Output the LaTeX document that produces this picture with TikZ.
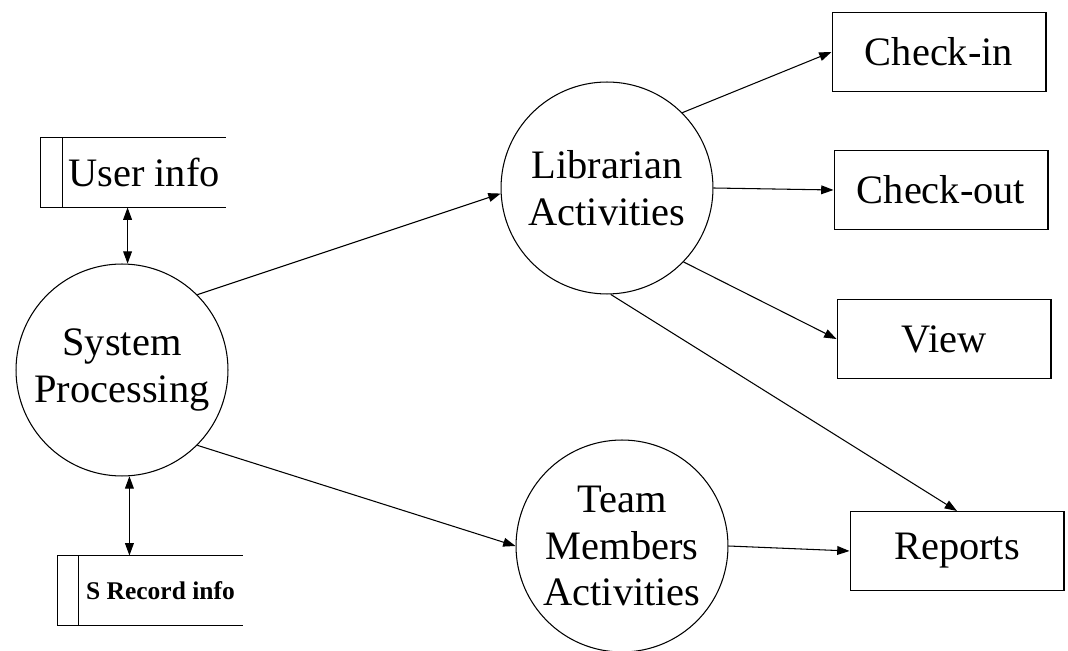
\documentclass[tikz,border=0pt]{standalone}
\usepackage{fontspec}
\setmainfont{Liberation Serif}
\usetikzlibrary{arrows.meta,calc}
\tikzset{
	proc/.style={draw, circle, minimum size=4.24cm, inner sep=0pt, align=center},
	ent/.style={draw, rectangle, minimum width=4.28cm, minimum height=1.58cm, inner sep=0pt},
	store/.style={minimum height=1.38cm, inner sep=0pt},
	flow/.style={-{Triangle[length=7pt,width=5pt]}},
	biflow/.style={{Triangle[length=7pt,width=5pt]}-{Triangle[length=7pt,width=5pt]}},
}
\begin{document}
\begin{tikzpicture}[x=0.02cm, y=-0.02cm, line width=0.6pt, font=\fontsize{23}{26.5}\selectfont]
	\useasboundingbox (0,0) rectangle (1068,651);
	% processes
	\node[proc] (sys) at (122,370) {System\\Processing};
	\node[proc] (lib) at (607,188) {Librarian\\Activities};
	\node[proc] (team) at (622,546) {Team\\Members\\Activities};
	% outputs
	\node[ent] (checkin) at (939,52) {Check-in};
	\node[ent] (checkout) at (941,190) {Check-out};
	\node[ent] (view) at (944,339) {View};
	\node[ent] (reports) at (957,551) {Reports};
	% data stores
	\node[store, minimum width=3.24cm] (ustore) at (144,172.5) {User info};
	\node[store, minimum width=3.26cm, font=\bfseries\fontsize{14.5}{17}\selectfont] (rstore) at (160.5,590.5) {S Record info};
	\foreach \s/\w in {ustore/22, rstore/21} {
		\draw (\s.north east) -- ($(\s.north west)+(-\w,0)$) -- ($(\s.south west)+(-\w,0)$) -- (\s.south east);
		\draw (\s.north west) -- (\s.south west);
	}
	% flows
	\draw[biflow] (sys.87) -- (sys.87 |- ustore.south);
	\draw[biflow] (sys.-86) -- (sys.-86 |- rstore.north);
	\draw[flow] (sys.45) -- (lib.183);
	\draw[flow] (sys.-45) -- (team.180);
	\draw[flow] (lib.45) -- (checkin.west);
	\draw[flow] (lib.0) -- (checkout.west);
	\draw[flow] (lib.-44) -- (view.west);
	\draw[flow] (lib.-88) -- (reports.north);
	\draw[flow] (team.0) -- (reports.west);
\end{tikzpicture}
\end{document}
